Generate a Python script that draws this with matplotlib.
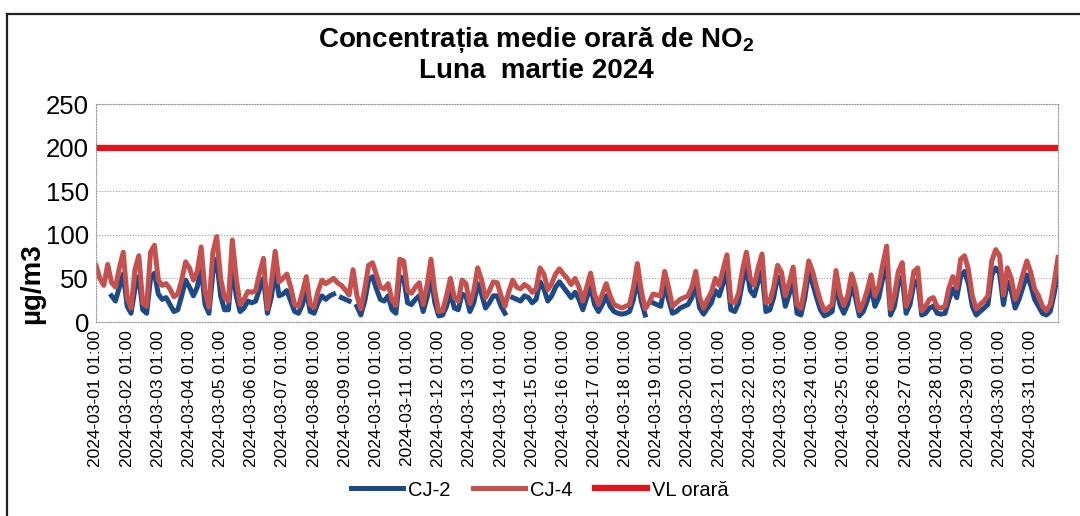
import matplotlib
matplotlib.use("Agg")
import matplotlib.pyplot as plt
from matplotlib.lines import Line2D
import numpy as np

plt.rcParams["font.family"] = ["Liberation Sans", "DejaVu Sans"]
plt.rcParams["mathtext.fontset"] = "custom"
plt.rcParams["mathtext.rm"] = "Liberation Sans"
plt.rcParams["mathtext.bf"] = "Liberation Sans:bold"

# ---------------------------------------------------------------------------
# Data: NO2 hourly means, March 2024, every 3 hours
# (one line per day, 8 values per line)
# ---------------------------------------------------------------------------
STEP_H = 3
nan = np.nan

CJ4 = [
    65, 50, 42, 66, 45, 40, 62, 80,
    28, 16, 60, 76, 22, 18, 80, 88,
    48, 42, 44, 38, 29, 32, 48, 69,
    62, 48, 58, 86, 35, 17, 80, 98,
    50, 28, 24, 94, 50, 20, 26, 35,
    34, 36, 56, 73, 15, 44, 81, 46,
    50, 55, 40, 20, 18, 34, 52, 20,
    17, 35, 48, 44, 47, 50, 45, 42,
    37, 31, 60, 30, 15, 38, 65, 68,
    54, 40, 38, 44, 25, 19, 72, 70,
    36, 33, 40, 45, 20, 42, 72, 35,
    12, 13, 30, 50, 28, 24, 48, 44,
    21, 36, 62, 48, 28, 36, 46, 45,
    30, 18, 35, 48, 40, 38, 43, 40,
    34, 38, 62, 55, 37, 44, 55, 61,
    55, 50, 43, 50, 40, 24, 40, 56,
    32, 20, 32, 44, 30, 20, 18, 16,
    18, 20, 40, 67, 36, 15, 22, 32,
    31, 30, 58, 40, 18, 22, 26, 28,
    30, 40, 58, 28, 16, 26, 34, 50,
    42, 60, 77, 24, 22, 33, 60, 80,
    50, 42, 62, 78, 22, 24, 40, 65,
    57, 30, 45, 63, 20, 16, 40, 70,
    58, 40, 24, 13, 16, 20, 59, 32,
    19, 30, 55, 40, 13, 22, 36, 54,
    30, 41, 66, 87, 15, 30, 58, 68,
    18, 30, 58, 62, 13, 18, 26, 28,
    17, 16, 18, 39, 52, 39, 72, 76,
    60, 30, 15, 20, 24, 30, 70, 83,
    76, 31, 62, 50, 26, 38, 55, 70,
    57, 38, 30, 18, 13, 20, 45, 74,
]

CJ2 = [
    nan, nan, nan, nan, 30, 24, 40, 55,
    18, 10, 38, 52, 14, 10, 50, 56,
    32, 26, 28, 20, 12, 14, 30, 48,
    40, 30, 40, 62, 20, 10, 56, 72,
    30, 14, 14, 66, 30, 12, 16, 24,
    22, 24, 38, 50, 10, 28, 58, 30,
    32, 36, 24, 12, 10, 20, 36, 12,
    10, 22, 30, 26, 30, 32, nan, 28,
    26, 24, nan, 18, 8, 24, 48, 52,
    38, 26, 24, 30, 14, 10, 52, 50,
    22, 20, 26, 30, 12, 28, 52, 22,
    7, 8, 18, 34, 16, 14, 32, 30,
    12, 22, 44, 32, 16, 22, 30, 30,
    18, 10, nan, 28, 26, 24, 30, 28,
    22, 26, 46, 38, 24, 30, 40, 46,
    40, 34, 28, 34, 26, 14, 28, 40,
    20, 12, 20, 30, 18, 12, 10, 9,
    10, 12, 26, 50, 24, 8, nan, 22,
    20, 18, 42, 26, 10, 12, 16, 18,
    20, 28, 42, 16, 9, 16, 22, 36,
    30, 44, 58, 14, 12, 22, 46, 62,
    36, 30, 46, 58, 12, 14, 28, 52,
    42, 18, 32, 48, 10, 8, 28, 58,
    44, 28, 14, 7, 9, 12, 44, 20,
    10, 20, 42, 28, 7, 12, 24, 40,
    18, 28, 50, 68, 8, 18, 44, 52,
    10, 20, 44, 48, 8, 10, 16, 18,
    10, 9, 10, 26, 38, 28, 52, 58,
    44, 18, 8, 12, 16, 20, 54, 62,
    56, 20, 46, 36, 16, 26, 40, 54,
    42, 26, 18, 10, 8, 12, 32, 58,
]

VL_ORARA = 200  # valoare limita orara

DAYS = list(range(1, 32))
DAY_LABELS = [f"2024-03-{d:02d} 01:00" for d in DAYS]

# ---------------------------------------------------------------------------
W, H = 1080, 516
fig = plt.figure(figsize=(W / 100, H / 100), dpi=100)
fig.patch.set_facecolor("white")

# outer chart frame (top + left visible in the scan)
fig.add_artist(Line2D([7 / W, 1.0], [1 - 14 / H, 1 - 14 / H],
                      transform=fig.transFigure, color="#222222", lw=1.6))
fig.add_artist(Line2D([7 / W, 7 / W], [0.0, 1 - 14 / H],
                      transform=fig.transFigure, color="#222222", lw=1.6))

ax = fig.add_axes([96 / W, 1 - 322 / H, 962 / W, 218 / H])

x = np.arange(len(CJ4)) * STEP_H
ax.plot(x, CJ2, color="#1d4a86", lw=3.6, label="CJ-2", solid_joinstyle="round")
ax.plot(x, CJ4, color="#c4514e", lw=3.6, label="CJ-4", solid_joinstyle="round")
ax.axhline(VL_ORARA, color="#e3121c", lw=4.5, label="VL orară")

ax.set_xlim(0, x[-1])
ax.set_ylim(0, 250)
ax.set_yticks(range(0, 251, 50))
ax.set_xticks([(d - 1) * 24 for d in DAYS])
ax.set_xticklabels(DAY_LABELS, rotation=90, fontsize=12.5)
ax.tick_params(axis="y", labelsize=18.5, length=0, pad=5)
ax.tick_params(axis="x", length=0, pad=6)

ax.grid(axis="y", color="#9a9a9a", linestyle=(0, (1, 1.5)), lw=0.8)
for sp in ax.spines.values():
    sp.set_color("#9a9a9a")
    sp.set_linewidth(0.8)
    sp.set_linestyle((0, (1, 1.5)))

fig.text(32 / W, 1 - 284 / H, "µg/m3", rotation=90, ha="center", va="center",
         fontsize=20, fontweight="bold")

fig.text(536 / W, 1 - 40 / H, "Concentrația medie orară de NO$_\\mathbf{2}$",
         ha="center", va="center", fontsize=20, fontweight="bold")
fig.text(536 / W, 1 - 71 / H, "Luna  martie 2024",
         ha="center", va="center", fontsize=20, fontweight="bold")

fig.legend(loc="center", bbox_to_anchor=(0.5, 1 - 490 / H), ncol=3,
           frameon=False, fontsize=14.5, handlelength=2.6,
           handletextpad=0.25, columnspacing=1.1)

fig.savefig("out.png", dpi=100)
